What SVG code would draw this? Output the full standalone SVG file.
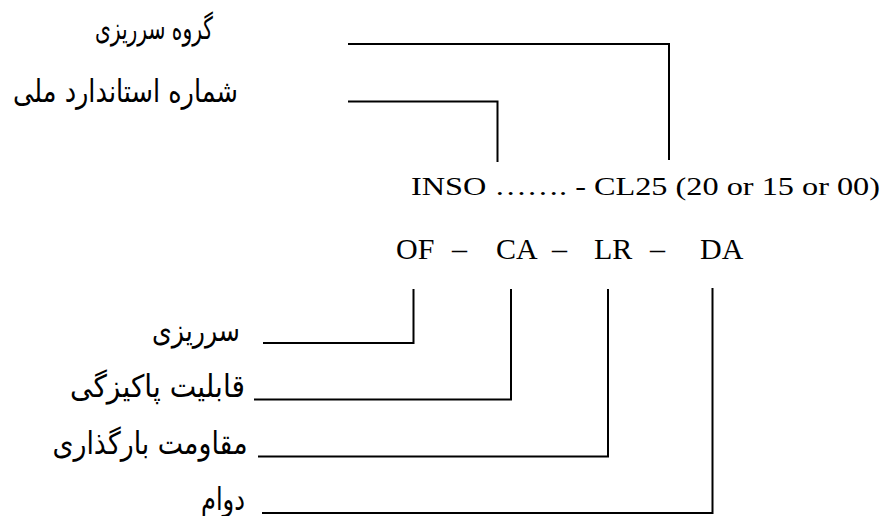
<svg xmlns="http://www.w3.org/2000/svg" width="884" height="516" viewBox="0 0 884 516">
  <style>
    .lat { font-family: "Liberation Serif", "Times New Roman", serif; fill: #000; }
    .fa { font-family: "DejaVu Sans", "Noto Sans", sans-serif; font-size: 31px; fill: #000; direction: rtl; }
    .wire { fill: none; stroke: #000; stroke-width: 2; }
  </style>
  <rect width="884" height="516" fill="#fff"/>

  <!-- designation strings -->
  <g id="code-line">
    <text class="lat" x="411" y="195" font-size="26" textLength="469" lengthAdjust="spacingAndGlyphs">INSO ……. - CL25 (20 or 15 or 00)</text>
  </g>
  <g id="class-line" class="lat" font-size="30">
    <text x="396" y="258.5">OF</text>
    <text x="452" y="258.5">–</text>
    <text x="496" y="258.5">CA</text>
    <text x="552" y="258.5">–</text>
    <text x="594" y="258.5">LR</text>
    <text x="650" y="258.5">–</text>
    <text x="700" y="258.5">DA</text>
  </g>

  <!-- labels -->
  <g id="label-group">
    <text class="fa" x="154" y="39" text-anchor="middle" textLength="118" lengthAdjust="spacingAndGlyphs">گروه سرریزی</text>
  </g>
  <g id="label-standard">
    <text class="fa" x="125.5" y="102" text-anchor="middle" textLength="225" lengthAdjust="spacingAndGlyphs">شماره استاندارد ملی</text>
  </g>
  <g id="label-overflow">
    <text class="fa" x="196" y="341" text-anchor="middle" textLength="88" lengthAdjust="spacingAndGlyphs">سرریزی</text>
  </g>
  <g id="label-cleanability">
    <text class="fa" x="157.5" y="397" text-anchor="middle" textLength="175" lengthAdjust="spacingAndGlyphs">قابلیت پاکیزگی</text>
  </g>
  <g id="label-load">
    <text class="fa" x="150" y="454" text-anchor="middle" textLength="195" lengthAdjust="spacingAndGlyphs">مقاومت بارگذاری</text>
  </g>
  <g id="label-durability">
    <text class="fa" x="223" y="510" text-anchor="middle" textLength="44" lengthAdjust="spacingAndGlyphs">دوام</text>
  </g>

  <!-- leader lines -->
  <g id="connectors" class="wire">
    <path d="M348 44 H669 V160"/>
    <path d="M348 101.5 H497.5 V162"/>
    <path d="M413.5 289 V343 H263"/>
    <path d="M511 289 V399.5 H254"/>
    <path d="M608 289 V456.5 H258"/>
    <path d="M712.5 288 V513 H262"/>
  </g>
</svg>
